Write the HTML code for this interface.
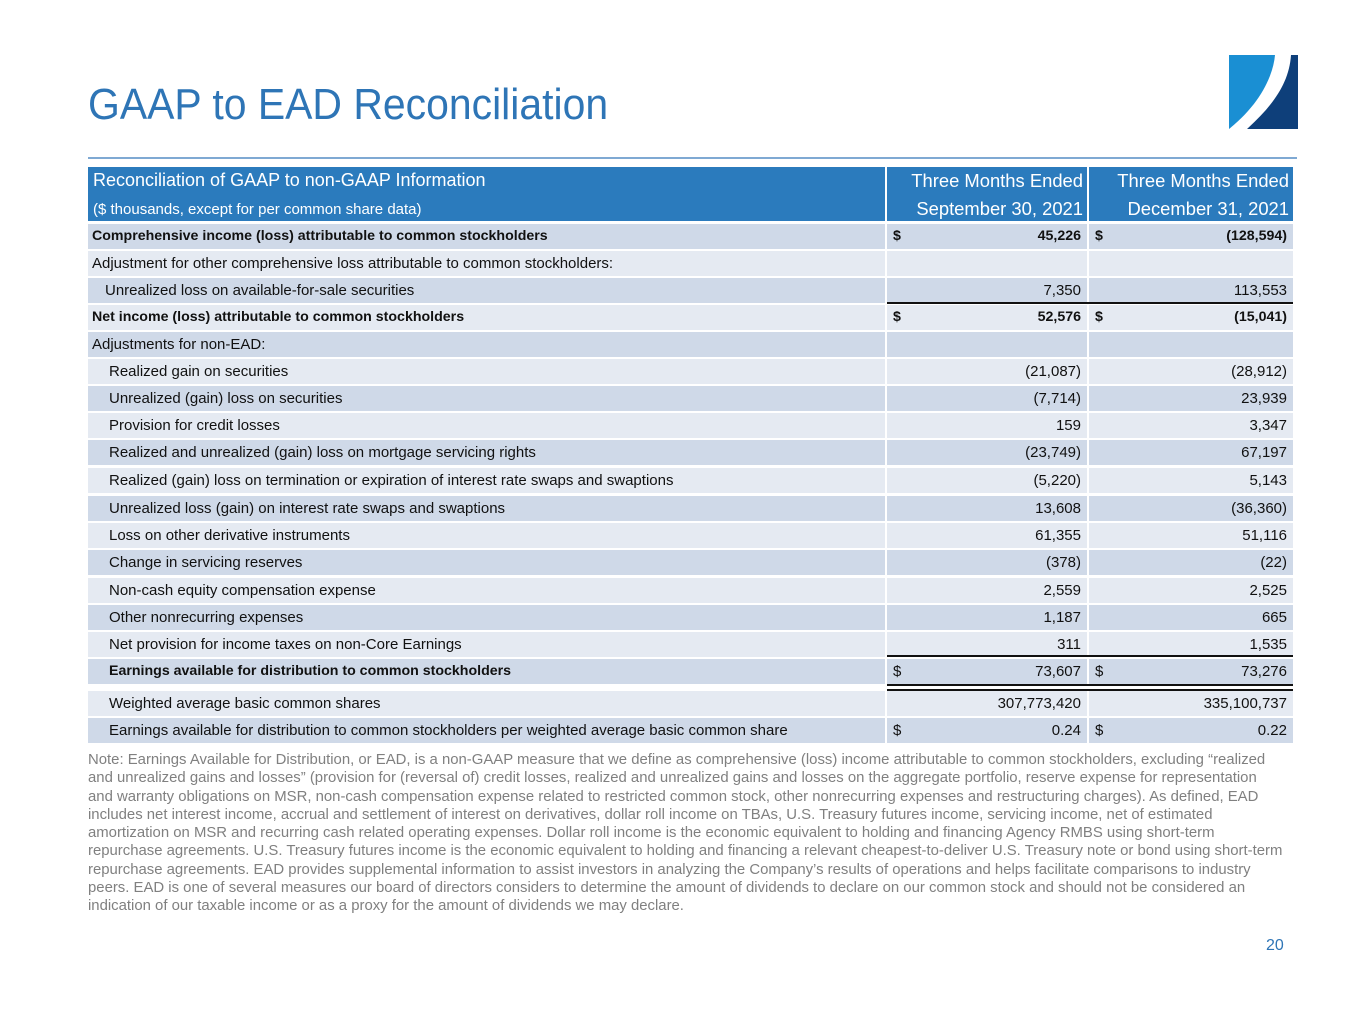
<!DOCTYPE html>
<html><head><meta charset="utf-8"><style>
body{margin:0;background:#fff;font-family:"Liberation Sans",sans-serif;}
#p{position:relative;width:1365px;height:1024px;overflow:hidden;}
.t{position:absolute;left:88px;top:80px;font-size:44px;color:#2e75b6;white-space:nowrap;transform-origin:0 0;transform:scaleX(0.93);}
.hl{position:absolute;left:88px;top:157px;width:1209px;height:2px;background:#7fa9d3;}
.c{position:absolute;height:25px;line-height:25px;font-size:15px;color:#111;white-space:nowrap;box-sizing:border-box;}
.h{position:absolute;background:#2b7bbd;color:#fff;white-space:nowrap;box-sizing:border-box;}
.d{background:#cfd9e8}.l{background:#e5eaf2}
.b{font-weight:bold;font-size:14.2px}
.r{text-align:right;padding-right:6px}
.s{position:absolute;left:6px}
.ln{position:absolute;height:2px;background:#111;}
.note{position:absolute;left:88px;top:751px;font-size:14.9px;line-height:18.3px;color:#808080;white-space:nowrap;}
.pg{position:absolute;left:1266px;top:937px;font-size:16px;color:#2e75b6;}
</style></head><body><div id="p">
<div class="t">GAAP to EAD Reconciliation</div>
<svg style="position:absolute;left:1229px;top:55px" width="69" height="74" viewBox="0 0 69 74">
<path d="M0 0 H46 C44 22 30 50 0 74 Z" fill="#1a8fd3"/>
<path d="M62 0 H69 V74 H18 C42 52 60 30 62 0 Z" fill="#0e3f7a"/>
</svg>
<div class="hl"></div>
<div class="h" style="left:88px;top:167px;width:797px;height:54px;padding-left:5px;"><div style="font-size:18px;position:absolute;top:3px;left:5px">Reconciliation of GAAP to non-GAAP Information</div><div style="font-size:15px;position:absolute;top:34px;left:5px">($ thousands, except for per common share data)</div></div>
<div class="h" style="left:887px;top:167px;width:200px;height:54px;text-align:right;padding-right:4px;font-size:18.4px;line-height:28px;">Three Months Ended<br>September 30, 2021</div>
<div class="h" style="left:1089px;top:167px;width:204px;height:54px;text-align:right;padding-right:4px;font-size:18.4px;line-height:28px;">Three Months Ended<br>December 31, 2021</div>
<div id="rows"></div>
<div class="ln" style="left:887px;top:302px;width:406px"></div>
<div class="ln" style="left:887px;top:655px;width:406px"></div>
<div class="ln" style="left:887px;top:684px;width:406px"></div>
<div class="ln" style="left:887px;top:689px;width:406px"></div>
<div class="note">Note: Earnings Available for Distribution, or EAD, is a non-GAAP measure that we define as comprehensive (loss) income attributable to common stockholders, excluding “realized<br>and unrealized gains and losses” (provision for (reversal of) credit losses, realized and unrealized gains and losses on the aggregate portfolio, reserve expense for representation<br>and warranty obligations on MSR, non-cash compensation expense related to restricted common stock, other nonrecurring expenses and restructuring charges). As defined, EAD<br>includes net interest income, accrual and settlement of interest on derivatives, dollar roll income on TBAs, U.S. Treasury futures income, servicing income, net of estimated<br>amortization on MSR and recurring cash related operating expenses. Dollar roll income is the economic equivalent to holding and financing Agency RMBS using short-term<br>repurchase agreements. U.S. Treasury futures income is the economic equivalent to holding and financing a relevant cheapest-to-deliver U.S. Treasury note or bond using short-term<br>repurchase agreements. EAD provides supplemental information to assist investors in analyzing the Company’s results of operations and helps facilitate comparisons to industry<br>peers. EAD is one of several measures our board of directors considers to determine the amount of dividends to declare on our common stock and should not be considered an<br>indication of our taxable income or as a proxy for the amount of dividends we may declare.</div>
<div class="pg">20</div>
</div>
<script>
var R=[
["Comprehensive income (loss) attributable to common stockholders",0,"45,226","(128,594)",1,1,1],
["Adjustment for other comprehensive loss attributable to common stockholders:",0,"","",0,0,0],
["Unrealized loss on available-for-sale securities",13,"7,350","113,553",0,0,0],
["Net income (loss) attributable to common stockholders",0,"52,576","(15,041)",1,1,1],
["Adjustments for non-EAD:",0,"","",0,0,0],
["Realized gain on securities",17,"(21,087)","(28,912)",0,0,0],
["Unrealized (gain) loss on securities",17,"(7,714)","23,939",0,0,0],
["Provision for credit losses",17,"159","3,347",0,0,0],
["Realized and unrealized (gain) loss on mortgage servicing rights",17,"(23,749)","67,197",0,0,0],
["Realized (gain) loss on termination or expiration of interest rate swaps and swaptions",17,"(5,220)","5,143",0,0,0],
["Unrealized loss (gain) on interest rate swaps and swaptions",17,"13,608","(36,360)",0,0,0],
["Loss on other derivative instruments",17,"61,355","51,116",0,0,0],
["Change in servicing reserves",17,"(378)","(22)",0,0,0],
["Non-cash equity compensation expense",17,"2,559","2,525",0,0,0],
["Other nonrecurring expenses",17,"1,187","665",0,0,0],
["Net provision for income taxes on non-Core Earnings",17,"311","1,535",0,0,0],
["Earnings available for distribution to common stockholders",17,"73,607","73,276",1,0,1],
["Weighted average basic common shares",17,"307,773,420","335,100,737",0,0,0],
["Earnings available for distribution to common stockholders per weighted average basic common share",17,"0.24","0.22",0,0,1]];
var h="";
R.forEach(function(r,i){
 var c=[237,264,291,318,345,372,399,426,453,481,509,536,563,591,618,645,672,704,731][i];
 var top=c-13, cl=(i%2==0)?"d":"l";
 var lb=r[4]?" b":"", nb=r[5]?" b":"";
 h+='<div class="c '+cl+lb+'" style="left:88px;top:'+top+'px;width:797px;padding-left:'+(4+r[1])+'px">'+r[0]+'</div>';
 var dol=r[6]?'<span class="s">$</span>':'';
 h+='<div class="c '+cl+nb+' r" style="left:887px;top:'+top+'px;width:200px">'+dol+r[2]+'</div>';
 h+='<div class="c '+cl+nb+' r" style="left:1089px;top:'+top+'px;width:204px">'+dol+r[3]+'</div>';
});
document.getElementById("rows").innerHTML=h;
</script>
</body></html>
